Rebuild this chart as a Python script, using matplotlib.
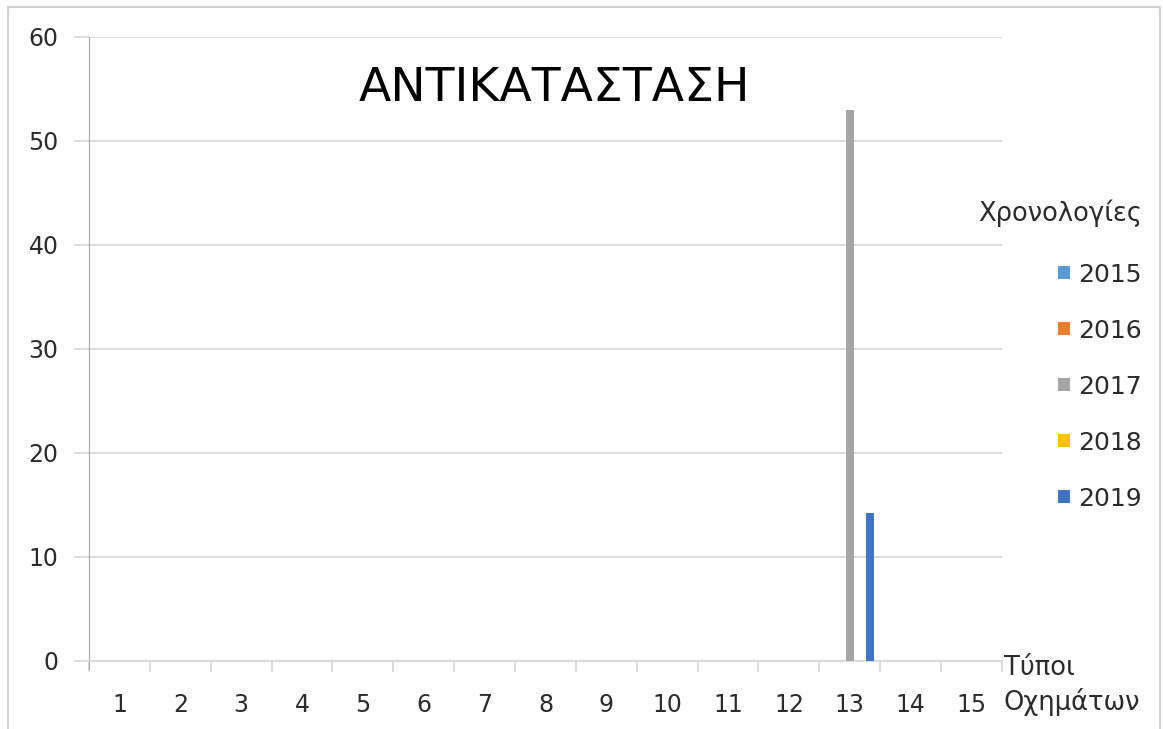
import matplotlib
matplotlib.use("Agg")
import matplotlib.pyplot as plt
import numpy as np
from matplotlib.patches import Rectangle

plt.rcParams['font.family'] = ['DejaVu Sans']

categories = [str(i) for i in range(1, 16)]
years = ['2015', '2016', '2017', '2018', '2019']
v2015 = [0] * 15
v2016 = [0] * 15
v2017 = [0, 0, 0, 0, 0, 0, 0, 0, 0, 0, 0, 0, 53, 0, 0]
v2018 = [0] * 15
v2019 = [0, 0, 0, 0, 0, 0, 0, 0, 0, 0, 0, 0, 14.2, 0, 0]
series = [v2015, v2016, v2017, v2018, v2019]
colors = ['#5B9BD5', '#ED7D31', '#A5A5A5', '#FFC000', '#4472C4']

title = 'ΑΝΤΙΚΑΤΑΣΤΑΣΗ'
legend_title = 'Χρονολογίες'
xlabel = 'Τύποι\nΟχημάτων'

txt = '#2b2b2b'
fig = plt.figure(figsize=(11.63, 7.29), dpi=100)
fig.patches.append(Rectangle((0.007, -0.01), 0.99, 1.0, transform=fig.transFigure,
                             fill=False, edgecolor='#d0d0d0', lw=1.5))
ax = fig.add_axes([0.0765, 0.0933, 0.785, 0.856])

x = np.arange(len(categories))
step = 0.165
width = 0.14
handles = []
for i, (vals, c, y) in enumerate(zip(series, colors, years)):
    b = ax.bar(x + (i - 2) * step, vals, width=width, color=c, label=y, zorder=3)
    handles.append(b)

ax.set_xlim(-0.5, 14.5)
ax.set_ylim(0, 60)
ax.set_yticks(range(0, 61, 10))
ax.grid(axis='y', color='#d9d9d9', lw=1.3, zorder=0)
for s in ['top', 'right']:
    ax.spines[s].set_visible(False)
ax.spines['left'].set_color('#a6a6a6')
ax.spines['bottom'].set_color('#d9d9d9')
ax.spines['bottom'].set_linewidth(1.3)
ax.spines['left'].set_bounds(-0.8, 60)

ax.set_xticks(np.arange(-0.5, 15, 1), minor=False)
ax.set_xticklabels([])
ax.set_xticks(x, minor=True)
ax.set_xticklabels(categories, minor=True)
ax.tick_params(axis='x', which='major', length=8, color='#d9d9d9', width=1.3)
ax.tick_params(axis='x', which='minor', length=0, pad=23, labelsize=17, labelcolor=txt)
ax.tick_params(axis='y', length=11, color='#d9d9d9', width=1.3, labelsize=17,
               labelcolor=txt, pad=11)

fig.text(0.477, 0.878, title, ha='center', va='center', fontsize=34, color='#000000')
fig.text(0.9114, 0.707, legend_title, ha='center', va='center', fontsize=18.5, color=txt)
fig.text(0.863, 0.060, xlabel, ha='left', va='center', fontsize=18.5, color=txt,
         linespacing=1.3)

leg = fig.legend(handles=handles, labels=years, loc='upper left',
                 bbox_to_anchor=(0.9015, 0.6536), frameon=False, fontsize=18,
                 handlelength=0.45, handleheight=0.45, handletextpad=0.35,
                 labelspacing=1.28, borderaxespad=0)
for t in leg.get_texts():
    t.set_color(txt)

fig.savefig('out.png', dpi=100)
